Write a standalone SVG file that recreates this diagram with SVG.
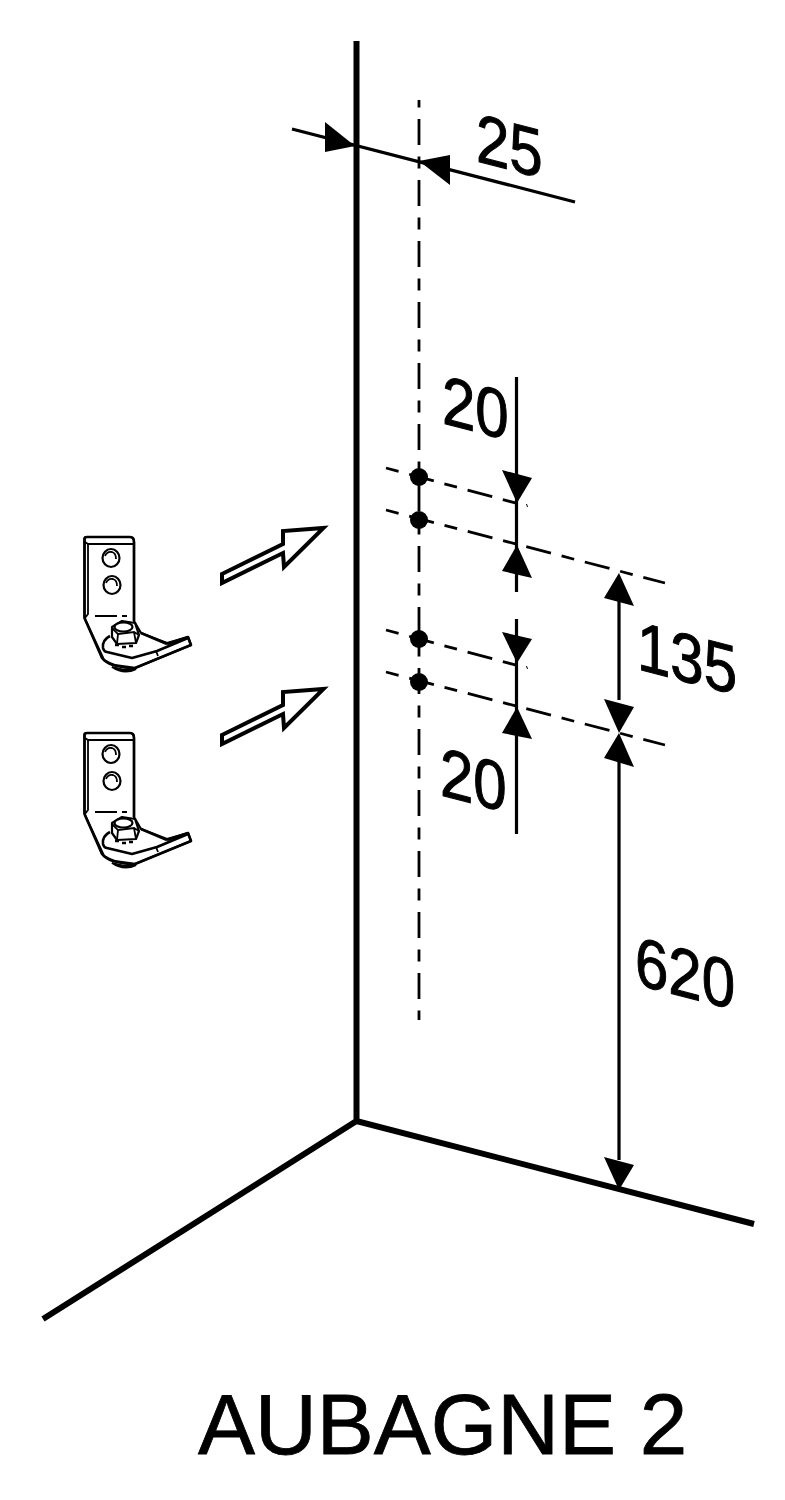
<svg xmlns="http://www.w3.org/2000/svg" xmlns:xlink="http://www.w3.org/1999/xlink" width="785" height="1500" viewBox="0 0 785 1500">
<style>
.bg{fill:#fff}
.wall{fill:none;stroke:#000;stroke-width:6}
.dim{fill:none;stroke:#000;stroke-width:3.2}
.center{fill:none;stroke:#000;stroke-width:2.800;stroke-dasharray:26 11.5 12 11.5;stroke-dashoffset:42}
.ext{fill:none;stroke:#000;stroke-width:2.800;stroke-dasharray:13 11 25.5 11}
.head,.dot{fill:#000;stroke:none}
.big{fill:#fff;stroke:#000;stroke-width:4;stroke-miterlimit:20}
.b{fill:#fff;stroke:#000;stroke-width:2.200;stroke-linejoin:round}
.bt{fill:none;stroke:#000;stroke-width:1.800}
.b3{fill:none;stroke:#000;stroke-width:2.600;stroke-linejoin:round}
text{font-family:"Liberation Sans",Arial,sans-serif;fill:#000;stroke:#000}
.n{font-size:60px;stroke-width:.9px}
.t{font-size:85.500px;stroke-width:.8px}
</style>
<defs>
<g id="bracket">
<path class="b" d="M84.500,618 V539 Q84.500,537 87,537 H130 Q134,537 134,542 V621 L141,633 L167,643 L188,637 L191,645 L135,668 Q118,669 104,660 Z"/>
<path class="b3" d="M84.500,618 V539 Q84.500,537 87,537 H130 Q134,537 134,542 V621"/>
<path class="bt" d="M85,542 L88,544 H133 M88,544 V614 L85,618"/>
<path class="bt" d="M95,616 H117 M122,616 H127"/>
<ellipse class="b" cx="111" cy="558" rx="8.500" ry="9"/>
<path class="bt" d="M105,556 Q107,551 112,552 Q116,553 116,559"/>
<ellipse class="b" cx="112" cy="585" rx="8.500" ry="9"/>
<path class="bt" d="M106,583 Q108,578 113,579 Q117,580 117,586"/>
<path class="b3" d="M110,636 Q102,640 103,648 Q104,652 107,652 L132,658 L157,651 L188,638"/>
<path class="b3" d="M84.500,618 L102,658 Q106,663 113,665 L135,668 L191,645 L188,637 L167,644"/>
<path class="b3" d="M141,633 L167,644"/>
<path class="bt" d="M156,651 L158,656"/>
<path class="b" d="M112,627 L122,621 L135,623 L139,635 L136,643 L117,644 L112,637 Z"/>
<path class="bt" d="M112,628 L118,634 L117,644 M118,634 L134,632 L136,643 M134,632 L139,635"/>
<ellipse class="b" cx="123.500" cy="627" rx="9" ry="4.500"/>
<path class="b3" d="M115,645 H119 M122,647 H126 M129,646 H133"/>
<path d="M112,667 Q124,675 136,669 L124,670 Z" fill="#000" stroke="#000" stroke-width="2"/>
</g>
<path id="bigarrow" class="big" d="M222,574 L283,544 V531 L323.500,528 L284,567 L283,553 L222,583 Z"/>
</defs>
<rect class="bg" width="785" height="1500"/>
<g id="connectors">
<path class="wall" d="M356.500,41 V1121 M43,1319 L356.500,1121 L754,1224"/>
<path class="center" d="M419,100 V1020"/>
<path class="ext" d="M386,468 L523,505"/>
<path class="ext" d="M386,510 L665,583"/>
<path class="ext" d="M386,630 L523,667"/>
<path class="ext" d="M386,672 L665,745"/>
<path class="dim" d="M292,129 L575,202"/>
<path class="dim" d="M516.500,377 V592 M516.500,619 V834 M619,600 V700 M619,760 V1160"/>
<g class="head">
<path d="M355,146 L325,122 V152 Z"/>
<path d="M419,161 L450,155 V185 Z"/>
<path d="M517,503 L502,470 L532,478 Z"/>
<path d="M517,545 L502,571 L532,578 Z"/>
<path d="M517,663 L502,632 L532,639 Z"/>
<path d="M517,707 L502,733 L532,739 Z"/>
<path d="M619,573 L604,598 L634,606 Z"/>
<path d="M619,733 L604,699 L634,707 Z"/>
<path d="M619,733 L604,758 L634,767 Z"/>
<path d="M619,1190 L604,1157 L634,1165 Z"/>
<path d="M526.500,504 L527.500,507 M526.500,666 L527.500,669" stroke="#000" fill="none"/>
</g>
</g>
<g id="hole-dots">
<circle class="dot" cx="419" cy="477" r="9"/>
<circle class="dot" cx="419" cy="520" r="9"/>
<circle class="dot" cx="419" cy="639" r="9"/>
<circle class="dot" cx="419" cy="682" r="9"/>
</g>
<g id="bracket-1"><use href="#bracket" xlink:href="#bracket"/></g>
<g id="bracket-2"><use href="#bracket" xlink:href="#bracket" y="196"/></g>
<g id="arrow-1"><use href="#bigarrow" xlink:href="#bigarrow"/></g>
<g id="arrow-2"><use href="#bigarrow" xlink:href="#bigarrow" y="161"/></g>
<g id="labels">
<text class="n" transform="translate(476,161) skewY(14.500) scale(1,1.15)">25</text>
<text class="n" transform="translate(442,423) skewY(14.500) scale(1,1.15)">20</text>
<text class="n" transform="translate(440,795) skewY(14.500) scale(1,1.15)">20</text>
<text class="n" transform="translate(637,669) skewY(14.500) scale(1,1.15)">135</text>
<text class="n" transform="translate(635,984) skewY(14.500) scale(1,1.15)">620</text>
<text class="t" x="198" y="1454">AUBAGNE 2</text>
</g>
</svg>
